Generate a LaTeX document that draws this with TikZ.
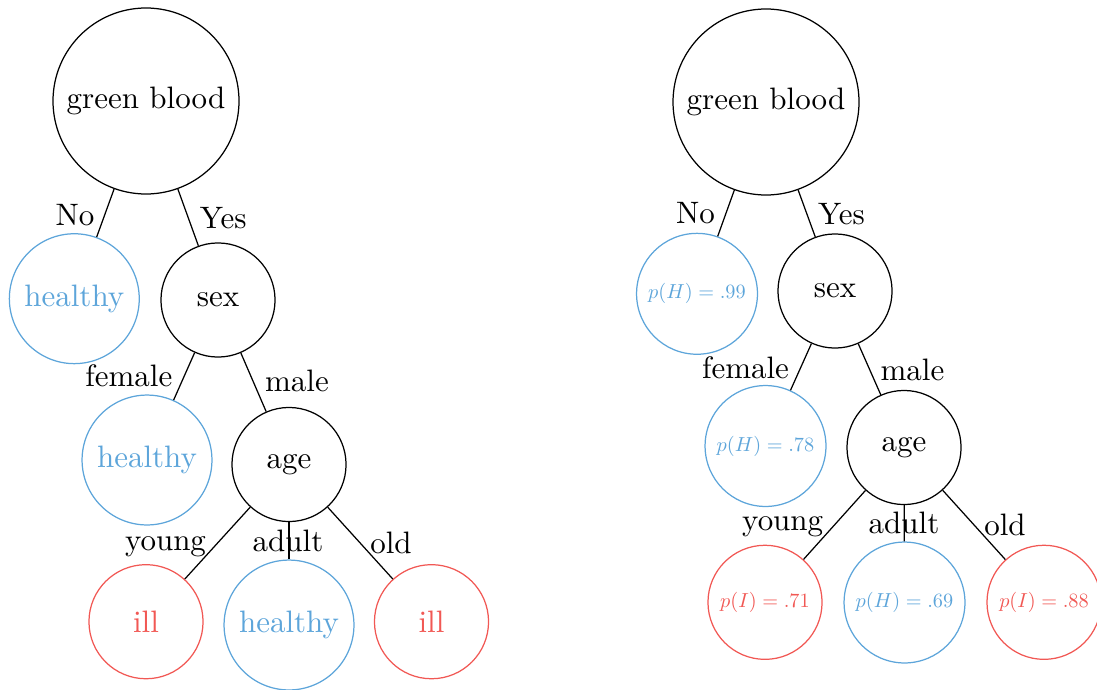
\documentclass[tikz,border=0pt]{standalone}
\usepackage{graphicx}
\definecolor{hblue}{HTML}{5DA5DA}
\definecolor{ired}{HTML}{F15854}
\newcommand{\smallp}[1]{\scalebox{0.655}{$#1$}}
\tikzset{
  px/.style={x=0.32258pt,y=-0.32258pt},
  nd/.style={circle,draw,inner sep=0pt,line width=0.4pt,font=\normalsize},
  big/.style={nd,minimum size=60pt},
  mid/.style={nd,minimum size=36.8pt},
  hl/.style={nd,draw=hblue,text=hblue,minimum size=41.9pt},
  il/.style={nd,draw=ired,text=ired,minimum size=36.8pt},
  ph/.style={nd,draw=hblue,text=hblue,minimum size=39pt},
  pi/.style={nd,draw=ired,text=ired,minimum size=36.8pt},
  lab/.style={anchor=base,inner sep=0pt,font=\normalsize},
  edge/.style={line width=0.4pt}
}
\begin{document}
\begin{tikzpicture}[px]
\useasboundingbox (0,0) rectangle (1097,689);
\clip (0,0) rectangle (1097,689);
% ---------- left tree ----------
\node[big] (Lroot) at (146,101) {green blood};
\node[hl]  (Lh1)   at (74.3,298.7) {healthy};
\node[mid] (Lsex)  at (218,300) {sex};
\node[hl]  (Lh2)   at (147,460) {healthy};
\node[mid] (Lage)  at (289,464.5) {age};
\node[il]  (Li1)   at (146,621.7) {ill};
\node[hl]  (Lh3)   at (289,625) {healthy};
\node[il]  (Li2)   at (431.5,621.7) {ill};
\draw[edge] (Lroot) -- (Lh1);
\draw[edge] (Lroot) -- (Lsex);
\draw[edge] (Lsex) -- (Lh2);
\draw[edge] (Lsex) -- (Lage);
\draw[edge] (Lage) -- (Li1);
\draw[edge] (Lage) -- (Lh3);
\draw[edge] (Lage) -- (Li2);
\node[lab] (LlNo)  at (75,225) {No};
\node[lab] (LlYes) at (223.3,228) {Yes};
\node[lab] (LlF)   at (128.8,386.7) {female};
\node[lab] (LlM)   at (297,391.7) {male};
\node[lab] (LlY)   at (165.5,550) {young};
\node[lab] (LlA)   at (288,551) {adult};
\node[lab] (LlO)   at (391,553) {old};
% ---------- right tree ----------
\node[big] (Rroot) at (766,102) {green blood};
\node[ph]  (Rh1)   at (697,293.8) {\smallp{p(H) = .99}};
\node[mid] (Rsex)  at (835,291) {sex};
\node[ph]  (Rh2)   at (765.5,446) {\smallp{p(H) = .78}};
\node[mid] (Rage)  at (904,447.5) {age};
\node[pi]  (Ri1)   at (765,602.3) {\smallp{p(I) = .71}};
\node[ph]  (Rh3)   at (904.5,602.5) {\smallp{p(H) = .69}};
\node[pi]  (Ri2)   at (1044,602.3) {\smallp{p(I) = .88}};
\draw[edge] (Rroot) -- (Rh1);
\draw[edge] (Rroot) -- (Rsex);
\draw[edge] (Rsex) -- (Rh2);
\draw[edge] (Rsex) -- (Rage);
\draw[edge] (Rage) -- (Ri1);
\draw[edge] (Rage) -- (Rh3);
\draw[edge] (Rage) -- (Ri2);
\node[lab] (RlNo)  at (695.5,223) {No};
\node[lab] (RlYes) at (841.5,224) {Yes};
\node[lab] (RlF)   at (745.5,378) {female};
\node[lab] (RlM)   at (912.5,380) {male};
\node[lab] (RlY)   at (782.7,530) {young};
\node[lab] (RlA)   at (904,533) {adult};
\node[lab] (RlO)   at (1005,535) {old};
\end{tikzpicture}
\end{document}
